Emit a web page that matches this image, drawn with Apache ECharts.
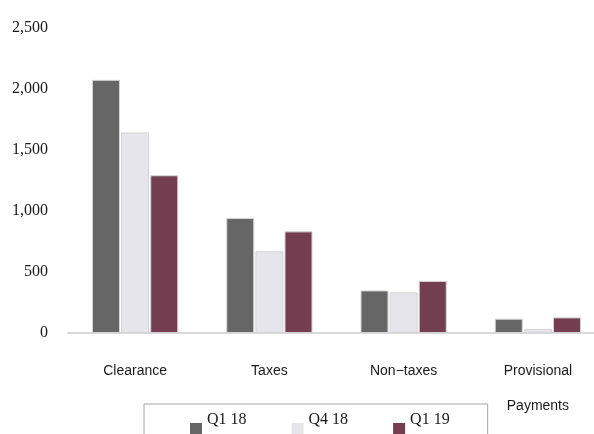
<!DOCTYPE html>
<html>
<head>
<meta charset="utf-8">
<script src="https://cdn.jsdelivr.net/npm/echarts@6/dist/echarts.min.js"></script>
<style>
  html, body { margin: 0; padding: 0; background: #ffffff; }
  #chart { width: 594px; height: 434px; }
</style>
</head>
<body>
<div id="chart"></div>
<script>
// Revenue categories and quarterly amounts
const categories = ['Clearance', 'Taxes', 'Non\u2212taxes', 'Provisional\nPayments'];
const seriesNames = ['Q1 18', 'Q4 18', 'Q1 19'];
const q1_18 = [2075, 942, 349, 117];
const q4_18 = [1644, 670, 333, 33];
const q1_19 = [1293, 833, 427, 128];
const yTicks = [0, 500, 1000, 1500, 2000, 2500];

const colors = ['#666666', '#e6e5ec', '#733f50'];
const values = [q1_18, q4_18, q1_19];

// legend swatch: a square sitting low in its box, below the text's centre line
const swatchIcon = 'path://M0,0L12,0Z M0,18L12,18L12,30L0,30Z';

const chart = echarts.init(document.getElementById('chart'), null, { renderer: 'canvas' });

chart.setOption({
  animation: false,
  backgroundColor: '#ffffff',
  // plot area runs a little past the right edge of the canvas
  grid: {
    left: 68, width: 537, top: 28, bottom: 101,
    containLabel: false, outerBoundsMode: 'none'
  },
  xAxis: {
    type: 'category',
    data: categories,
    axisLine: { show: true, lineStyle: { color: '#d9d9d9', width: 2 } },
    axisTick: { show: false },
    axisLabel: {
      interval: 0,
      margin: 21,
      fontFamily: 'Liberation Sans, Arial, sans-serif',
      fontSize: 14,
      lineHeight: 35,
      color: '#1a1a1a'
    }
  },
  yAxis: {
    type: 'value',
    min: yTicks[0],
    max: yTicks[yTicks.length - 1],
    interval: 500,
    axisLine: { show: false },
    axisTick: { show: false },
    splitLine: { show: false },
    axisLabel: {
      margin: 20,
      fontFamily: 'Liberation Serif, Times New Roman, serif',
      fontSize: 16,
      color: '#1a1a1a',
      formatter: v => v.toLocaleString('en-US')
    }
  },
  legend: {
    data: seriesNames,
    left: 144,
    top: 404,
    orient: 'horizontal',
    icon: swatchIcon,
    itemWidth: 12,
    itemHeight: 30,
    itemGap: 45,
    padding: [1, 38, 20, 46],
    borderColor: '#a6a6a6',
    borderWidth: 1,
    itemStyle: { borderWidth: 0 },
    textStyle: {
      fontFamily: 'Liberation Serif, Times New Roman, serif',
      fontSize: 16,
      color: '#1a1a1a'
    }
  },
  series: seriesNames.map((name, i) => ({
    name: name,
    type: 'bar',
    data: values[i],
    barWidth: 28,
    barGap: '4%',
    itemStyle: { color: colors[i], borderColor: '#d4d4d4', borderWidth: 1 }
  }))
});
</script>
</body>
</html>
